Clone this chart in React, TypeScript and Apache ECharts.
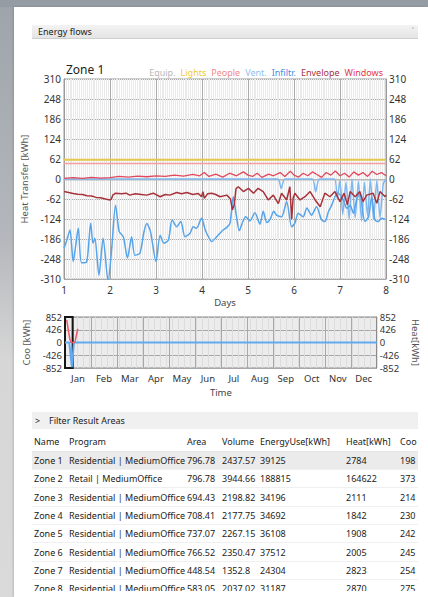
import React, { useEffect, useRef } from "react";
import * as echarts from "echarts";

const FONT = "'Noto Sans', 'Open Sans', sans-serif";

// ---------- main chart data (Zone 1, days 1-8) ----------
const legendNames = ["Equip.", "Lights", "People", "Vent.", "Infiltr.", "Envelope", "Windows"];
const legendColors = ["#b8b8b8", "#f0cc30", "#f28a8a", "#8fc0f2", "#3f8fe6", "#a8323a", "#e2384a"];

const flatDays = [1, 8];
const equipValues = [-2, -2];
const lightsValues = [60, 60];
const peopleValues = [48, 48];

const ventDays = [1, 5.65, 5.72, 5.8, 6.4, 6.47, 6.55, 6.88, 6.94, 7.0, 7.06, 7.13, 7.2, 7.26, 7.33, 7.4, 7.47, 7.53, 7.6, 7.66, 7.73, 7.8, 7.87, 7.94, 8.0];
const ventValues = [0, 0, -30, 0, 0, -40, 0, 0, -60, -5, -110, -10, -125, 0, -120, -8, -130, -10, -115, 0, -125, -5, -120, -15, 0];

const infiltrDays = [1.0, 1.06, 1.13, 1.2, 1.26, 1.31, 1.38, 1.49, 1.58, 1.63, 1.67, 1.76, 1.85, 1.96, 2.04, 2.12, 2.2, 2.29, 2.38, 2.47, 2.54, 2.65, 2.74, 2.8, 2.88, 3.0, 3.09, 3.17, 3.27, 3.35, 3.45, 3.54, 3.63, 3.74, 3.81, 3.88, 3.99, 4.07, 4.14, 4.21, 4.32, 4.39, 4.46, 4.54, 4.61, 4.68, 4.75, 4.81, 4.88, 4.95, 5.04, 5.15, 5.26, 5.33, 5.41, 5.48, 5.56, 5.62, 5.73, 5.84, 5.95, 6.02, 6.09, 6.2, 6.28, 6.38, 6.49, 6.6, 6.67, 6.75, 6.82, 6.89, 6.96, 7.07, 7.15, 7.22, 7.29, 7.36, 7.43, 7.54, 7.62, 7.69, 7.76, 7.83, 7.9, 7.98];
const infiltrValues = [-215, -190, -158, -256, -200, -152, -260, -258, -137, -199, -184, -298, -184, -318, -210, -81, -163, -179, -245, -179, -236, -230, -163, -138, -163, -256, -174, -199, -189, -127, -148, -132, -179, -168, -148, -153, -122, -158, -179, -194, -179, -168, -158, -150, -137, -55, -117, -160, -135, -117, -130, -105, -140, -100, -135, -125, -100, -112, -117, -70, -148, -137, -106, -117, -90, -112, -86, -127, -132, -101, -81, -55, -44, -65, -91, -81, -106, -65, -44, -132, -117, -55, -127, -132, -122, -125];

const envelopeDays = [1.0, 1.1, 1.2, 1.3, 1.4, 1.5, 1.6, 1.7, 1.8, 1.9, 2.0, 2.03, 2.06, 2.12, 2.25, 2.35, 2.43, 2.55, 2.68, 2.8, 2.94, 3.09, 3.2, 3.3, 3.45, 3.56, 3.67, 3.8, 3.92, 3.99, 4.02, 4.05, 4.12, 4.21, 4.3, 4.39, 4.54, 4.62, 4.66, 4.7, 4.74, 4.79, 4.9, 5.01, 5.12, 5.22, 5.33, 5.44, 5.55, 5.66, 5.73, 5.84, 5.91, 5.95, 5.98, 6.02, 6.13, 6.24, 6.35, 6.46, 6.57, 6.67, 6.78, 6.89, 7.0, 7.09, 7.16, 7.22, 7.33, 7.43, 7.5, 7.58, 7.72, 7.8, 7.87, 7.98, 8.0];
const envelopeValues = [-39, -42, -45, -47, -48, -52, -53, -57, -58, -62, -65, -62, -50, -44, -46, -44, -50, -46, -48, -50, -44, -55, -48, -50, -42, -46, -42, -48, -45, -55, -39, -60, -46, -44, -48, -55, -50, -62, -96, -80, -30, -24, -39, -29, -44, -29, -39, -65, -50, -76, -44, -65, -24, -125, -60, -44, -65, -55, -39, -65, -86, -44, -55, -39, -70, -44, -80, -39, -55, -39, -70, -50, -44, -75, -39, -55, -50];

const windowsDays = [1.0, 1.2, 1.4, 1.6, 1.8, 2.0, 2.2, 2.4, 2.6, 2.8, 3.0, 3.2, 3.4, 3.6, 3.8, 3.95, 4.05, 4.15, 4.3, 4.45, 4.6, 4.75, 4.9, 5.0, 5.1, 5.2, 5.3, 5.45, 5.55, 5.7, 5.8, 5.92, 6.0, 6.1, 6.2, 6.3, 6.4, 6.5, 6.6, 6.7, 6.8, 6.9, 7.0, 7.1, 7.2, 7.3, 7.4, 7.5, 7.6, 7.7, 7.8, 7.9, 8.0];
const windowsValues = [2, 4, 2, 5, 3, 4, 8, 6, 9, 7, 10, 8, 12, 9, 14, 10, 20, 8, 15, 6, 18, 10, 22, 12, 8, 18, 5, 15, 10, 20, 8, 24, 12, 6, 18, 10, 22, 14, 5, 20, 12, 25, 10, 18, 6, 22, 12, 20, 8, 24, 14, 20, 10];

// ---------- yearly overview data ----------
const months = ["Jan", "Feb", "Mar", "Apr", "May", "Jun", "Jul", "Aug", "Sep", "Oct", "Nov", "Dec"];
const coolDays = [2, 4, 6, 8, 11, 13, 15];
const coolValues = [760, 400, 80, 0, 0, 200, 460];
const heatDays = [0, 5, 8, 10.5, 16, 365];
const heatValues = [0, 0, -820, 0, 0, 0];
const selectedWeek = [0, 9];

// ---------- table ----------
const tableHeaders = ["Name", "Program", "Area", "Volume", "EnergyUse[kWh]", "Heat[kWh]", "Coo"];
const zoneNames = ["Zone 1", "Zone 2", "Zone 3", "Zone 4", "Zone 5", "Zone 6", "Zone 7", "Zone 8"];
const zonePrograms = ["Residential | MediumOffice", "Retail | MediumOffice", "Residential | MediumOffice", "Residential | MediumOffice", "Residential | MediumOffice", "Residential | MediumOffice", "Residential | MediumOffice", "Residential | MediumOffice"];
const zoneAreas = ["796.78", "796.78", "694.43", "708.41", "737.07", "766.52", "448.54", "583.05"];
const zoneVolumes = ["2437.57", "3944.66", "2198.82", "2177.75", "2267.15", "2350.47", "1352.8", "2037.02"];
const zoneEnergy = ["39125", "188815", "34196", "34692", "36108", "37512", "24304", "31187"];
const zoneHeat = ["2784", "164622", "2111", "1842", "1908", "2005", "2823", "2870"];
const zoneCool = ["198", "373", "214", "230", "242", "245", "254", "275"];

const colX = [2, 37, 155, 190, 228, 314, 368];

const zip = (xs: number[], ys: number[]) => xs.map((x, i) => [x, ys[i]]);

function buildOption(): any {
  const lineSeries = (name: string, color: string, days: number[], vals: number[], width = 1.5, smooth: any = false, z = 2) => ({
    name,
    type: "line",
    xAxisIndex: 0,
    yAxisIndex: 0,
    data: zip(days, vals),
    showSymbol: false,
    smooth,
    z,
    lineStyle: { color, width },
    itemStyle: { color },
  });
  const axisLabel = { color: "#333", fontSize: 10, fontFamily: FONT };
  return {
    animation: false,
    textStyle: { fontFamily: FONT },
    legend: {
      top: 63,
      right: 40,
      icon: "none",
      itemWidth: 0,
      itemHeight: 0,
      itemGap: 0,
      selectedMode: false,
      textStyle: { fontSize: 9, fontFamily: FONT },
      data: legendNames.map((n, i) => ({ name: n, textStyle: { color: legendColors[i] } })),
    },
    graphic: [
      { type: "text", left: 66, top: 63, style: { text: "Zone 1", fontSize: 12, fill: "#222", fontFamily: FONT } },
    ],
    grid: [
      { left: 64, top: 79, width: 322, height: 200, show: true, backgroundColor: "#fff", borderColor: "#9a9a9a", borderWidth: 1 },
      { left: 65, top: 317, width: 320, height: 51, show: true, backgroundColor: "#ececec", borderColor: "#8a8a8a", borderWidth: 1 },
    ],
    xAxis: [
      {
        type: "value", gridIndex: 0, position: "bottom", min: 1, max: 8, interval: 1,
        axisLine: { show: true, lineStyle: { color: "#9a9a9a" } },
        axisTick: { show: false },
        axisLabel: { ...axisLabel, margin: 6 },
        splitLine: { show: true, lineStyle: { color: "#aaaaaa", width: 1 } },
        minorTick: { show: false, splitNumber: 24 },
        minorSplitLine: { show: true, lineStyle: { color: "#eaeaea", width: 1 } },
        name: "Days", nameLocation: "middle", nameGap: 18,
        nameTextStyle: { color: "#444", fontSize: 9.5, fontFamily: FONT },
      },
      {
        type: "value", gridIndex: 1, position: "top", min: 0, max: 365, interval: 7,
        axisLine: { show: false }, axisTick: { show: false }, axisLabel: { show: false },
        splitLine: { show: true, lineStyle: { color: "#dcdcdc", width: 1 } },
      },
      {
        type: "category", gridIndex: 1, position: "bottom", data: months, boundaryGap: true,
        axisLine: { show: true, lineStyle: { color: "#8a8a8a" } },
        axisTick: { show: false },
        axisLabel: { ...axisLabel, fontSize: 9.5, margin: 5, interval: 0 },
        splitLine: { show: true, interval: 0, lineStyle: { color: "#a8a8a8" } },
        name: "Time", nameLocation: "middle", nameGap: 19,
        nameTextStyle: { color: "#444", fontSize: 9.5, fontFamily: FONT },
      },
    ],
    yAxis: [
      {
        type: "value", gridIndex: 0, min: -310, max: 310, interval: 62,
        axisLine: { show: true, lineStyle: { color: "#9a9a9a" } },
        axisTick: { show: false },
        axisLabel: { ...axisLabel, margin: 3 },
        splitLine: { show: true, lineStyle: { color: "#aaaaaa" } },
        name: "Heat Transfer [kWh]", nameLocation: "middle", nameGap: 25,
        nameTextStyle: { color: "#555", fontSize: 9.5, fontFamily: FONT },
      },
      {
        type: "value", gridIndex: 0, position: "right", min: -310, max: 310, interval: 62,
        axisLine: { show: true, lineStyle: { color: "#9a9a9a" } },
        axisTick: { show: false },
        axisLabel: { ...axisLabel, margin: 3 },
        splitLine: { show: false },
      },
      {
        type: "value", gridIndex: 1, min: -852, max: 852, interval: 426,
        axisLine: { show: true, lineStyle: { color: "#8a8a8a" } },
        axisTick: { show: false },
        axisLabel: { ...axisLabel, fontSize: 9.5, margin: 3 },
        splitLine: { show: true, lineStyle: { color: "#a8a8a8" } },
        name: "Coo [kWh]", nameLocation: "middle", nameGap: 24,
        nameTextStyle: { color: "#555", fontSize: 9.5, fontFamily: FONT },
      },
      {
        type: "value", gridIndex: 1, position: "right", min: -852, max: 852, interval: 426,
        axisLine: { show: true, lineStyle: { color: "#8a8a8a" } },
        axisTick: { show: false },
        axisLabel: { ...axisLabel, fontSize: 9.5, margin: 3 },
        splitLine: { show: false },
        name: "Heat[kWh]", nameLocation: "middle", nameGap: 24, nameRotate: -90,
        nameTextStyle: { color: "#555", fontSize: 9.5, fontFamily: FONT },
      },
    ],
    series: [
      lineSeries("Equip.", "#b8b8b8", flatDays, equipValues, 1.5),
      lineSeries("Lights", "#e4c84a", flatDays, lightsValues, 2),
      lineSeries("People", "#f4a0a0", flatDays, peopleValues, 1.5),
      lineSeries("Vent.", "#7fb8f0", ventDays, ventValues, 1.5, 0.2, 3),
      lineSeries("Infiltr.", "#56a4ea", infiltrDays, infiltrValues, 1.5, 0.25, 4),
      lineSeries("Envelope", "#a8323a", envelopeDays, envelopeValues, 1.5, false, 5),
      lineSeries("Windows", "#e2485a", windowsDays, windowsValues, 1.3, false, 5),
      {
        name: "Cooling", type: "line", xAxisIndex: 1, yAxisIndex: 2,
        data: zip(coolDays, coolValues), showSymbol: false, smooth: 0.3,
        lineStyle: { color: "#ee5a6a", width: 1.5 }, z: 4,
      },
      {
        name: "Heating", type: "line", xAxisIndex: 1, yAxisIndex: 2,
        data: zip(heatDays, heatValues), showSymbol: false,
        lineStyle: { color: "#62aaf0", width: 2 }, z: 3,
        markArea: {
          silent: true,
          itemStyle: { color: "rgba(0,0,0,0)", borderColor: "#151515", borderWidth: 2 },
          data: [[{ coord: [selectedWeek[0], -852] }, { coord: [selectedWeek[1], 852] }]],
        },
      },
    ],
  };
}

export default function App() {
  const ref = useRef<HTMLDivElement>(null);
  useEffect(() => {
    document.body.style.margin = "0";
    const chart = echarts.init(ref.current!, null, { renderer: "svg" });
    chart.setOption(buildOption());
    return () => chart.dispose();
  }, []);

  const rowTop = (i: number) => 452 + i * 18.3;
  const cellStyle = (x: number): React.CSSProperties => ({ position: "absolute", left: x, whiteSpace: "nowrap" });

  return (
    <div style={{ position: "absolute", left: 0, top: 0, width: 428, height: 597, overflow: "hidden", background: "linear-gradient(#9ea4aa, #b4b8bc 40%, #d6d6d6 60%, #dadada)", fontFamily: FONT, color: "#222" }}>
      <div style={{ position: "absolute", left: 0, top: 0, width: 428, height: 7, background: "#969ca3" }} />
      <div style={{ position: "absolute", left: 14, top: 7, width: 414, height: 590, background: "#fff", boxShadow: "-1px 0 2px rgba(0,0,0,0.15)" }} />
      {/* dropdown */}
      <div style={{ position: "absolute", left: 32, top: 25, width: 386, height: 13, background: "linear-gradient(#f3f3f3, #e4e4e4)", borderBottom: "1px solid #cfcfcf" }}>
        <span style={{ position: "absolute", left: 6, top: 0, fontSize: 9, lineHeight: "13px" }}>Energy flows</span>
        <span style={{ position: "absolute", right: 4, top: -1, fontSize: 8, lineHeight: "13px", color: "#888" }}>˅</span>
      </div>
      {/* filter bar */}
      <div style={{ position: "absolute", left: 32, top: 412, width: 386, height: 17, background: "#f0f0f0" }}>
        <span style={{ position: "absolute", left: 3, top: 0, fontSize: 9, lineHeight: "17px" }}>&gt;</span>
        <span style={{ position: "absolute", left: 17, top: 0, fontSize: 9, lineHeight: "17px" }}>Filter Result Areas</span>
      </div>
      {/* table */}
      <div style={{ position: "absolute", left: 32, top: 433, width: 386, height: 158, overflow: "hidden", fontSize: 9 }}>
        <div style={{ position: "absolute", left: 0, top: 0, width: 386, height: 18, lineHeight: "18px", borderBottom: "1px solid #e6e6e6" }}>
          {tableHeaders.map((h, j) => (
            <span key={h} style={cellStyle(colX[j])}>{h}</span>
          ))}
        </div>
        {zoneNames.map((z, i) => (
          <div key={z} style={{ position: "absolute", left: 0, top: rowTop(i) - 433, width: 386, height: 17, lineHeight: "17px", background: i === 0 ? "#ebebeb" : "transparent", borderBottom: "1px solid #f0f0f0" }}>
            <span style={cellStyle(colX[0])}>{z}</span>
            <span style={cellStyle(colX[1])}>{zonePrograms[i]}</span>
            <span style={cellStyle(colX[2])}>{zoneAreas[i]}</span>
            <span style={cellStyle(colX[3])}>{zoneVolumes[i]}</span>
            <span style={cellStyle(colX[4])}>{zoneEnergy[i]}</span>
            <span style={cellStyle(colX[5])}>{zoneHeat[i]}</span>
            <span style={cellStyle(colX[6])}>{zoneCool[i]}</span>
          </div>
        ))}
      </div>
      <div ref={ref} style={{ position: "absolute", left: 0, top: 0, width: 428, height: 400 }} />
    </div>
  );
}
